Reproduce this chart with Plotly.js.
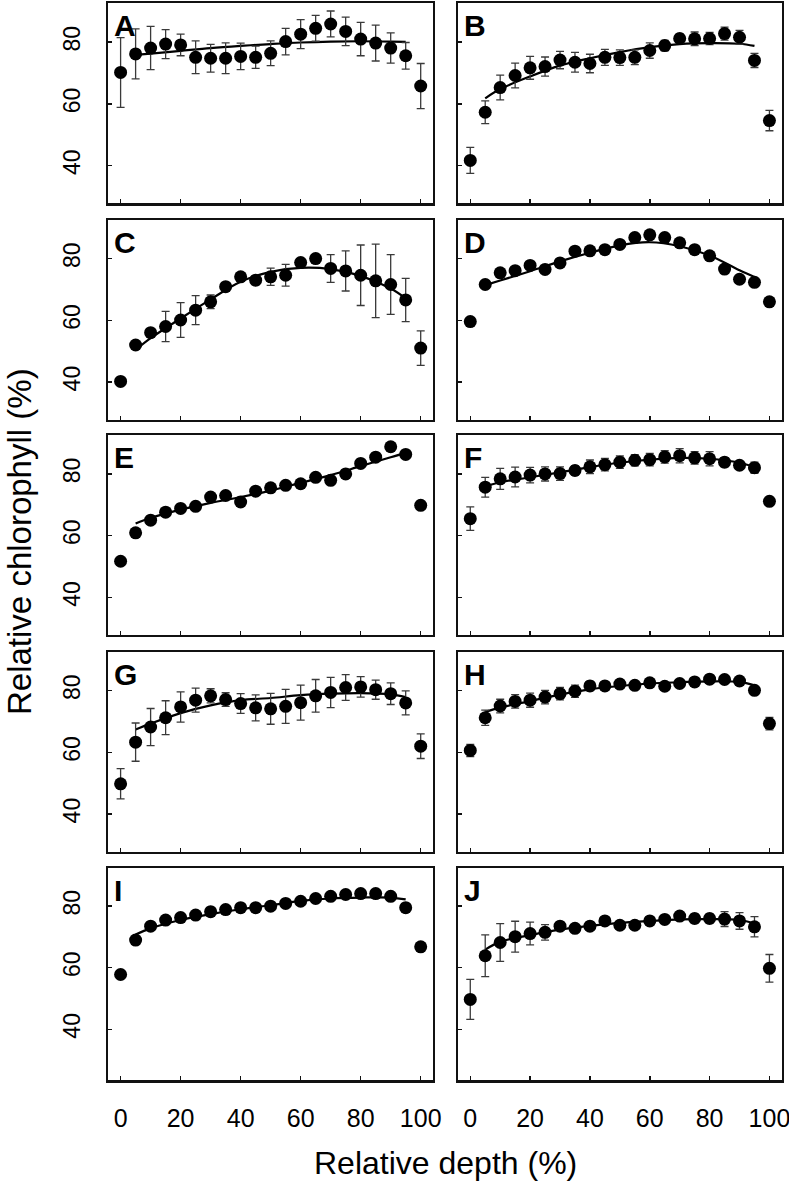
<!DOCTYPE html>
<html>
<head>
<meta charset="utf-8">
<script src="https://cdn.plot.ly/plotly-3.0.1.min.js"></script>
<style>html,body{margin:0;padding:0;background:#fff;}#chart{width:789px;height:1185px;}</style>
</head>
<body>
<div id="chart"></div>
<script>
// Relative depth (%) of each measured point
const depth = [0,5,10,15,20,25,30,35,40,45,50,55,60,65,70,75,80,85,90,95,100];
// Relative depth (%) where the fitted curve was read
const fitDepth = [5,10,20,30,40,50,60,70,80,90,95];

const panelLabels = ["A","B","C","D","E","F","G","H","I","J"];
const xTickVals = [0,20,40,60,80,100];
const xTickText = ["0","20","40","60","80","100"];
const yTickVals = [40,60,80];
const yTickText = ["40","60","80"];

// Panel A
const meanA = [70.2,76.2,78.1,79.4,79.1,75.1,74.8,74.8,75.4,75.1,76.4,80.2,82.6,84.5,85.9,83.5,81.0,79.7,78.1,75.6,65.8];
const errA  = [11.3,8.1,7.0,4.7,3.5,5.3,4.5,5.0,4.3,3.6,4.0,4.3,4.7,4.2,4.2,4.6,5.4,5.8,4.9,4.3,7.3];
const fitA  = [75.9,76.3,77.2,78.1,78.8,79.4,79.9,80.2,80.3,80.2,80.1];
// Panel B
const meanB = [41.7,57.3,65.3,69.2,71.7,72.1,74.2,73.5,73.1,75.1,75.0,75.1,77.3,78.9,81.2,81.1,81.2,82.8,81.6,74.1,54.6];
const errB  = [4.2,3.7,4.0,4.0,3.7,3.1,2.8,3.2,3.0,2.6,2.5,2.4,2.5,1.7,1.5,2.2,2.0,2.1,2.2,2.3,3.3];
const fitB  = [61.8,64.8,68.9,72.4,74.8,76.8,78.4,79.4,79.7,79.5,78.8];
// Panel C
const meanC = [40.2,52.0,56.0,58.0,60.1,63.3,66.0,70.9,74.1,73.0,74.1,74.6,78.7,80.0,76.8,76.0,74.6,72.8,71.6,66.6,51.0];
const errC  = [0,0,0,4.9,5.6,4.7,2.2,0,0,1.5,2.8,3.5,0,0,4.5,6.5,9.8,11.9,9.7,7.0,5.6];
const fitC  = [50.4,54.2,60.6,66.8,72.5,75.7,77.0,76.6,74.4,70.3,67.1];
// Panel D
const meanD = [59.6,71.6,75.4,76.1,77.8,76.5,78.6,82.4,82.5,82.9,84.6,86.8,87.7,86.8,85.1,82.9,80.9,76.6,73.3,72.3,66.0];
const errD  = null;
const fitD  = [71.4,72.9,75.9,79.1,81.9,84.3,85.3,84.0,81.0,76.2,74.0];
// Panel E
const meanE = [51.7,60.9,65.0,67.6,68.8,69.5,72.5,73.0,70.9,74.4,75.5,76.3,76.8,78.9,77.9,80.0,83.4,85.4,88.8,86.3,69.8];
const errE  = null;
const fitE  = [63.9,65.7,68.4,70.6,72.5,74.6,77.1,79.6,82.5,85.4,86.8];
// Panel F
const meanF = [65.5,75.7,78.4,79.0,79.6,80.0,80.1,81.1,82.3,83.0,83.8,84.4,84.6,85.5,85.9,85.2,84.9,83.8,82.8,82.0,71.1];
const errF  = [3.8,3.2,3.4,3.2,2.5,2.3,2.2,1.5,2.2,2.0,2.0,1.8,2.0,2.0,2.3,2.0,2.3,1.5,1.2,1.8,0.5];
const fitF  = [76.0,77.3,78.9,80.5,82.2,83.6,84.6,85.2,84.9,83.6,82.2];
// Panel G
const meanG = [49.8,63.3,68.2,71.2,74.7,76.9,78.3,77.1,75.8,74.4,74.1,74.9,76.1,78.3,79.4,81.0,81.2,80.3,79.0,76.0,62.0];
const errG  = [4.9,6.2,6.0,5.5,4.9,3.9,2.3,2.2,3.2,4.2,5.0,5.5,5.7,5.3,4.9,4.2,3.3,3.1,3.5,3.9,4.0];
const fitG  = [67.4,69.3,72.7,75.2,76.9,77.6,78.5,79.0,79.2,78.8,77.9];
// Panel H
const meanH = [60.6,71.2,75.0,76.5,76.9,77.9,79.0,79.8,81.5,81.5,82.1,81.7,82.5,81.4,82.3,82.8,83.7,83.6,83.1,80.1,69.3];
const errH  = [2.0,2.5,2.2,2.2,2.3,2.2,2.0,2.0,1.5,1.0,1.0,1.0,1.0,1.0,1.0,1.0,1.0,1.0,1.0,1.0,2.0];
const fitH  = [73.1,74.5,76.6,78.7,80.4,81.5,82.3,82.7,83.0,82.8,81.7];
// Panel I
const meanI = [57.8,69.0,73.5,75.5,76.3,77.1,78.2,78.9,79.5,79.5,80.0,80.9,81.6,82.5,83.2,83.8,84.1,84.1,83.2,79.5,66.8];
const errI  = null;
const fitI  = [70.8,72.8,75.5,77.4,79.0,80.3,81.7,82.5,82.8,82.8,82.2];
// Panel J
const meanJ = [49.7,63.9,68.2,70.1,71.1,71.5,73.5,72.8,73.5,75.2,73.8,73.8,75.2,75.7,76.8,76.0,76.0,75.8,75.2,73.3,59.8];
const errJ  = [6.5,6.8,6.1,5.0,3.7,2.5,1.0,1.0,1.0,1.0,1.0,1.0,1.0,1.0,1.2,1.5,1.5,2.4,2.7,3.3,4.5];
const fitJ  = [65.9,68.4,70.6,72.4,73.6,74.6,75.2,75.7,75.8,75.5,74.4];

const means = [meanA,meanB,meanC,meanD,meanE,meanF,meanG,meanH,meanI,meanJ];
const errs  = [errA,errB,errC,errD,errE,errF,errG,errH,errI,errJ];
const fits  = [fitA,fitB,fitC,fitD,fitE,fitF,fitG,fitH,fitI,fitJ];

// Layout geometry (pixels)
const W = 789, H = 1185;
const colX = [[108.3,433],[458,781.7]];
const rowY = [[3.3,203.3],[219.7,419.7],[435,635],[651.7,851.7],[867.7,1080.4]];
const rowRange = [[27.8,92.6],[27.8,92.6],[27.8,92.6],[27.8,92.6],[23.4,92.5]];
const FONT = "Liberation Sans, Arial, Helvetica, sans-serif";

const traces = [];
const layout = {
  width: W, height: H,
  margin: {l:0,r:0,t:0,b:0},
  paper_bgcolor: "#fff", plot_bgcolor: "#fff",
  showlegend: false,
  font: {family: FONT, color: "#000"},
  annotations: []
};

for (let i = 0; i < 10; i++) {
  const row = Math.floor(i/2), col = i % 2;
  const n = i + 1;
  const xa = "x" + (n === 1 ? "" : n), ya = "y" + (n === 1 ? "" : n);
  const xk = "xaxis" + (n === 1 ? "" : n), yk = "yaxis" + (n === 1 ? "" : n);

  traces.push({
    type: "scatter", mode: "lines",
    x: fitDepth, y: fits[i], xaxis: xa, yaxis: ya,
    line: {color: "#000", width: 2.2, shape: "spline", smoothing: 1},
    hoverinfo: "skip"
  });
  const pt = {
    type: "scatter", mode: "markers",
    x: depth, y: means[i], xaxis: xa, yaxis: ya,
    marker: {color: "#000", size: 13, line: {width: 0}}
  };
  if (errs[i]) {
    pt.error_y = {type: "data", array: errs[i], visible: true, color: "#3a3a3a", thickness: 1.3, width: 4};
  }
  traces.push(pt);

  const xd = [colX[col][0]/W, colX[col][1]/W];
  const yd = [1 - rowY[row][1]/H, 1 - rowY[row][0]/H];
  layout[xk] = {
    domain: xd, range: [-4.1, 104.1], anchor: ya,
    tickmode: "array", tickvals: xTickVals, ticktext: xTickText,
    ticks: "inside", ticklen: 4, tickwidth: 1.5, tickcolor: "#111",
    showline: true, linewidth: 2.2, linecolor: "#111", mirror: true,
    showgrid: false, zeroline: false,
    showticklabels: row === 4,
    ticklabeloverflow: "allow",
    tickfont: {family: FONT, size: 25, color: "#000"},
    ticklabelstandoff: 14
  };
  layout[yk] = {
    domain: yd, range: rowRange[row], anchor: xa,
    tickmode: "array", tickvals: yTickVals, ticktext: yTickText,
    ticks: "inside", ticklen: 4, tickwidth: 1.5, tickcolor: "#111",
    showline: true, linewidth: 2.2, linecolor: "#111", mirror: true,
    showgrid: false, zeroline: false,
    showticklabels: col === 0,
    ticklabeloverflow: "allow",
    tickangle: -90,
    tickfont: {family: FONT, size: 23, color: "#000"},
    ticklabelstandoff: 17
  };
  layout.annotations.push({
    xref: "paper", yref: "paper",
    x: (colX[col][0] + 4) / W, y: 1 - (rowY[row][0] + 4) / H,
    xanchor: "left", yanchor: "top", showarrow: false,
    text: "<b>" + panelLabels[i] + "</b>",
    font: {family: FONT, size: 30, color: "#000"}
  });
}

layout.annotations.push({
  xref: "paper", yref: "paper", x: 20/W, y: 1 - 542/H,
  xanchor: "center", yanchor: "middle", showarrow: false, textangle: -90,
  text: "Relative chlorophyll (%)",
  font: {family: FONT, size: 33, color: "#000"}
});
layout.annotations.push({
  xref: "paper", yref: "paper", x: 445/W, y: 1 - 1163/H,
  xanchor: "center", yanchor: "middle", showarrow: false,
  text: "Relative depth (%)",
  font: {family: FONT, size: 32, color: "#000"}
});

Plotly.newPlot("chart", traces, layout, {staticPlot: true, displayModeBar: false});
</script>
</body>
</html>
